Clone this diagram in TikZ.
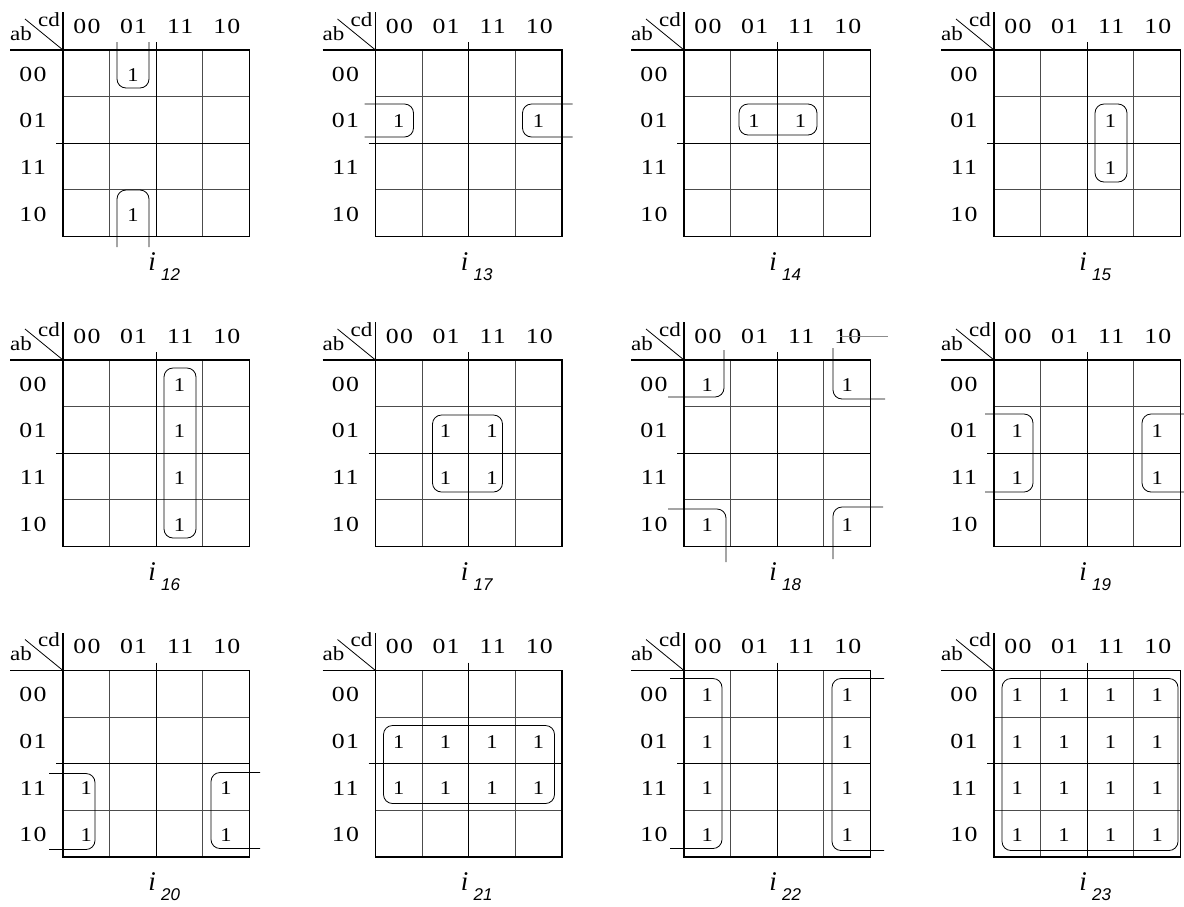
\documentclass[tikz,border=0pt]{standalone}
\usepackage{fontspec}
\setmainfont{Liberation Serif}
\newfontfamily\labfont[FakeStretch=1.2,LetterSpace=6]{Liberation Serif}
\newfontfamily\onefont[FakeStretch=1.15]{Liberation Serif}
\newfontfamily\subsfont{Liberation Sans}
\tikzset{
  inner/.style={line width=0.9pt,black!70},
  outer/.style={line width=1.4pt,black},
  diag/.style={line width=0.8pt,black},
  loop/.style={line width=0.8pt,black,rounded corners=9pt},
  graylin/.style={line width=0.8pt,black!45},
  axlab/.style={inner sep=0pt,font=\labfont\fontsize{21.5}{22}\selectfont},
  cdlab/.style={inner sep=0pt,font=\onefont\fontsize{20}{20}\selectfont},
  onelab/.style={inner sep=0pt,font=\onefont\fontsize{19.5}{20}\selectfont},
  titlab/.style={inner sep=0pt,font=\itshape\fontsize{27}{27}\selectfont},
  sublab/.style={inner sep=0pt,font=\subsfont\itshape\fontsize{17}{17}\selectfont},
}
\newcommand\kmap[4]{%
\begin{scope}[shift={(#1,#2)}]
 \draw[inner] (46.6,0) -- (46.6,186.5) (139.9,0) -- (139.9,186.5)
              (0,46.6) -- (186.5,46.6) (0,139.9) -- (186.5,139.9);
 \draw[outer] (93.25,-8) -- (93.25,186.5) (-7,93.25) -- (186.5,93.25);
 \draw[outer] (-53,0) -- (186.5,0) -- (186.5,186.5) -- (0,186.5) -- (0,-38);
 \draw[diag] (0,0) -- (-38,-31);
 \node[cdlab,anchor=base] (cd#3) at (-14,-24) {cd};
 \node[cdlab,anchor=base] (ab#3) at (-42,-10) {ab};
 \foreach \k/\t in {0/00,1/01,2/11,3/10}{
   \node[axlab,anchor=base] (c#3\k) at ({24+46.6*\k},-17) {\t};
   \node[axlab] (r#3\k) at (-30,{24.3+46.6*\k}) {\t};
 }
 \node[titlab,anchor=base] (t#3) at (89,220) {i};
 \node[sublab,anchor=base west] (s#3) at (98,230) {#3};
 #4
\end{scope}}
\newcommand\one[3]{\node[onelab] (o#1-#2-#3) at ({23.3+46.6*#2},{24.8+46.6*#3}) {1};}
\begin{document}
\begin{tikzpicture}[x=1pt,y=-1pt]
\useasboundingbox (0,0) rectangle (1184,906);
% row 1
\kmap{63}{50}{12}{
  \one{12}{1}{0}\one{12}{1}{3}
  \draw[loop] (54,-8) -- (54,38) -- (86,38) -- (86,-8);
  \draw[loop] (54,197) -- (54,140) -- (86,140) -- (86,197);
}
\kmap{375.5}{50}{13}{
  \one{13}{0}{1}\one{13}{3}{1}
  \draw[loop] (-11,54) -- (38,54) -- (38,87) -- (-11,87);
  \draw[loop] (197,54) -- (147,54) -- (147,87) -- (197,87);
}
\kmap{684}{50}{14}{
  \one{14}{1}{1}\one{14}{2}{1}
  \draw[loop] (55,54) rectangle (133,85);
}
\kmap{994}{50}{15}{
  \one{15}{2}{1}\one{15}{2}{2}
  \draw[loop] (101,54) rectangle (133,132);
}
% row 2
\kmap{63}{360}{16}{
  \one{16}{2}{0}\one{16}{2}{1}\one{16}{2}{2}\one{16}{2}{3}
  \draw[loop] (101,8) rectangle (133,178);
}
\kmap{375.5}{360}{17}{
  \one{17}{1}{1}\one{17}{2}{1}\one{17}{1}{2}\one{17}{2}{2}
  \draw[loop] (57,55) rectangle (127,132);
}
\kmap{684}{360}{18}{
  \one{18}{0}{0}\one{18}{3}{0}\one{18}{0}{3}\one{18}{3}{3}
  \draw[loop] (-16,37) -- (40,37) -- (40,-10);
  \draw[loop] (149,-12) -- (149,39) -- (201,39);
  \draw[loop] (-16,149) -- (42,149) -- (42,202);
  \draw[loop] (199,147) -- (149,147) -- (149,199);
  \draw[graylin] (156,-24) -- (204,-24);
}
\kmap{994}{360}{19}{
  \one{19}{0}{1}\one{19}{0}{2}\one{19}{3}{1}\one{19}{3}{2}
  \draw[loop] (-9,54) -- (39,54) -- (39,132) -- (-9,132);
  \draw[loop] (190,54) -- (148,54) -- (148,132) -- (190,132);
}
% row 3
\kmap{63}{670.5}{20}{
  \one{20}{0}{2}\one{20}{0}{3}\one{20}{3}{2}\one{20}{3}{3}
  \draw[loop] (-14,103) -- (32,103) -- (32,179) -- (-14,179);
  \draw[loop] (197,102) -- (148,102) -- (148,178) -- (197,178);
}
\kmap{375.5}{670.5}{21}{
  \foreach \j in {0,1,2,3}{\one{21}{\j}{1}\one{21}{\j}{2}}
  \draw[loop] (8,55) rectangle (179,133);
}
\kmap{684}{670.5}{22}{
  \foreach \r in {0,1,2,3}{\one{22}{0}{\r}\one{22}{3}{\r}}
  \draw[loop] (-14,8) -- (38,8) -- (38,178) -- (-14,178);
  \draw[loop] (200,8) -- (148,8) -- (148,180) -- (200,180);
}
\kmap{994}{670.5}{23}{
  \foreach \r in {0,1,2,3}{\foreach \j in {0,1,2,3}{\one{23}{\j}{\r}}}
  \draw[loop] (8,8) rectangle (184,180);
}
\end{tikzpicture}
\end{document}
